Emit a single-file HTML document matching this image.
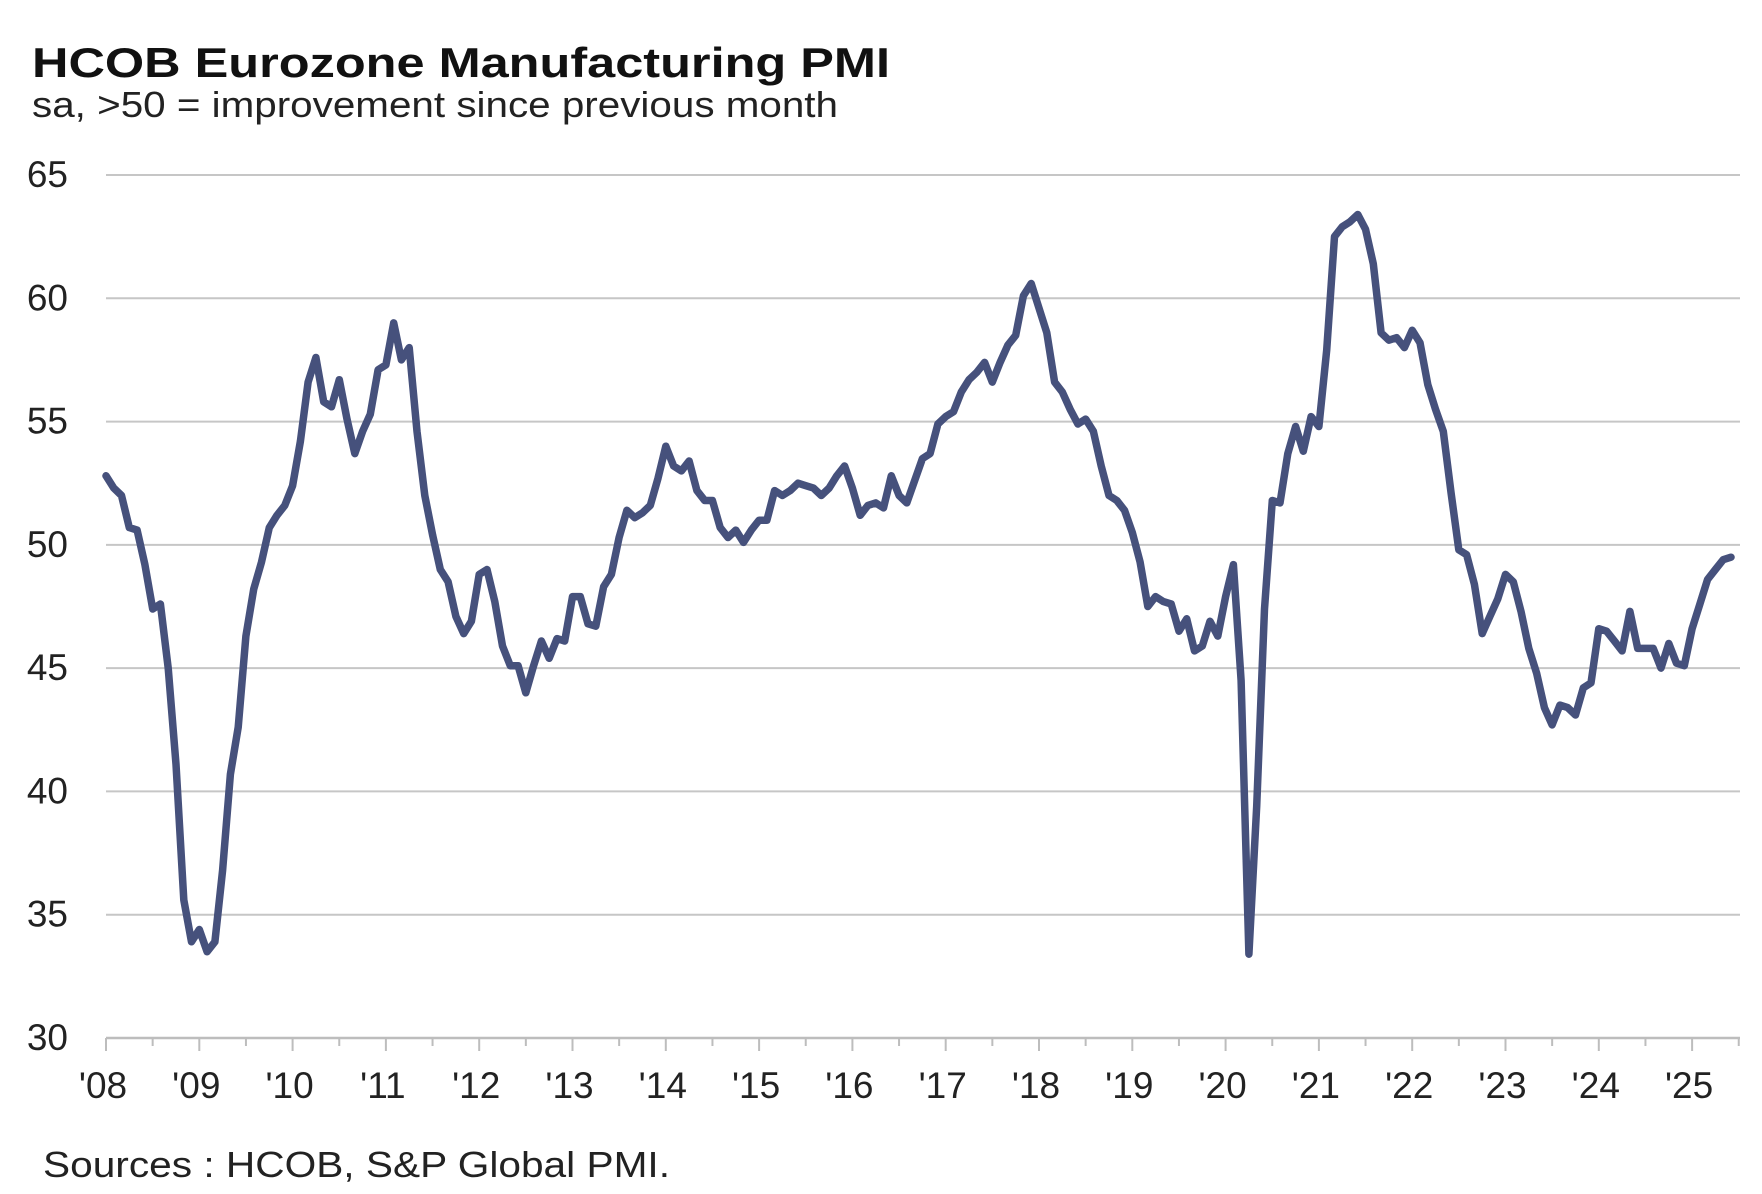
<!DOCTYPE html>
<html><head><meta charset="utf-8"><style>
html,body{margin:0;padding:0;background:#fff;}
svg{display:block;font-family:"Liberation Sans",Arial,sans-serif;}
</style></head><body>
<svg id="chart" width="1762" height="1194" viewBox="0 0 1762 1194">
<text x="32" y="77" font-size="42" font-weight="bold" fill="#111" textLength="858" lengthAdjust="spacingAndGlyphs">HCOB Eurozone Manufacturing PMI</text>
<text x="32" y="117" font-size="36" fill="#222" textLength="806" lengthAdjust="spacingAndGlyphs">sa, &gt;50 = improvement  since previous month</text>
<g id="grid"></g>
<g id="yaxis"></g>
<g id="xaxis"></g>
<path id="line" fill="none" stroke="#46517c" stroke-width="7.5" stroke-linejoin="round" stroke-linecap="round"/>
<text x="43" y="1177" font-size="36" fill="#222" textLength="627" lengthAdjust="spacingAndGlyphs">Sources : HCOB, S&amp;P Global  PMI.</text>
</svg>
<script>
const startYear = 2008;
const yTicks = [30,35,40,45,50,55,60,65];
const xTickLabels = ["'08","'09","'10","'11","'12","'13","'14","'15","'16","'17","'18","'19","'20","'21","'22","'23","'24","'25"];
const pmi2008 = [52.8,52.3,52.0,50.7,50.6,49.2,47.4,47.6,45.0,41.1,35.6,33.9];
const pmi2009 = [34.4,33.5,33.9,36.8,40.7,42.6,46.3,48.2,49.3,50.7,51.2,51.6];
const pmi2010 = [52.4,54.2,56.6,57.6,55.8,55.6,56.7,55.1,53.7,54.6,55.3,57.1];
const pmi2011 = [57.3,59.0,57.5,58.0,54.6,52.0,50.4,49.0,48.5,47.1,46.4,46.9];
const pmi2012 = [48.8,49.0,47.7,45.9,45.1,45.1,44.0,45.1,46.1,45.4,46.2,46.1];
const pmi2013 = [47.9,47.9,46.8,46.7,48.3,48.8,50.3,51.4,51.1,51.3,51.6,52.7];
const pmi2014 = [54.0,53.2,53.0,53.4,52.2,51.8,51.8,50.7,50.3,50.6,50.1,50.6];
const pmi2015 = [51.0,51.0,52.2,52.0,52.2,52.5,52.4,52.3,52.0,52.3,52.8,53.2];
const pmi2016 = [52.3,51.2,51.6,51.7,51.5,52.8,52.0,51.7,52.6,53.5,53.7,54.9];
const pmi2017 = [55.2,55.4,56.2,56.7,57.0,57.4,56.6,57.4,58.1,58.5,60.1,60.6];
const pmi2018 = [59.6,58.6,56.6,56.2,55.5,54.9,55.1,54.6,53.2,52.0,51.8,51.4];
const pmi2019 = [50.5,49.3,47.5,47.9,47.7,47.6,46.5,47.0,45.7,45.9,46.9,46.3];
const pmi2020 = [47.9,49.2,44.5,33.4,39.4,47.4,51.8,51.7,53.7,54.8,53.8,55.2];
const pmi2021 = [54.8,57.9,62.5,62.9,63.1,63.4,62.8,61.4,58.6,58.3,58.4,58.0];
const pmi2022 = [58.7,58.2,56.5,55.5,54.6,52.1,49.8,49.6,48.4,46.4,47.1,47.8];
const pmi2023 = [48.8,48.5,47.3,45.8,44.8,43.4,42.7,43.5,43.4,43.1,44.2,44.4];
const pmi2024 = [46.6,46.5,46.1,45.7,47.3,45.8,45.8,45.8,45.0,46.0,45.2,45.1];
const pmi2025 = [46.6,47.6,48.6,49.0,49.4,49.5];
const series = [].concat(pmi2008,pmi2009,pmi2010,pmi2011,pmi2012,pmi2013,pmi2014,pmi2015,pmi2016,pmi2017,pmi2018,pmi2019,pmi2020,pmi2021,pmi2022,pmi2023,pmi2024,pmi2025);

const NS = "http://www.w3.org/2000/svg";
const X0 = 106, PER_YEAR = 93.3, XR = 1740;
const Y30 = 1038, PER_UNIT = (1038-175)/35;
function xScale(monthIndex){ return X0 + monthIndex * PER_YEAR / 12; }
function yScale(v){ return Y30 - (v - 30) * PER_UNIT; }
function mk(tag, attrs, parent){ const e=document.createElementNS(NS,tag); for(const k in attrs) e.setAttribute(k,attrs[k]); parent.appendChild(e); return e; }

const grid=document.getElementById('grid'), yaxis=document.getElementById('yaxis'), xaxis=document.getElementById('xaxis');
yTicks.forEach(v=>{
  const y=yScale(v);
  if(v>30){
    const l=mk('line',{x1:X0,x2:XR,y1:y,y2:y,stroke:'#c6c6c6','stroke-width':2},grid);
    
    
  }
  const t=mk('text',{x:68,y:y+12,'text-anchor':'end','font-size':37,fill:'#222'},yaxis);
  t.textContent=v;
  
  
});
const ax=mk('line',{x1:X0,x2:XR,y1:Y30,y2:Y30,stroke:'#bdbdbd','stroke-width':2.5},xaxis);


for(let h=0; h<=35; h++){
  const x=X0+h*PER_YEAR/2;
  if(x>XR) break;
  const tk=mk('line',{x1:x,x2:x,y1:Y30,y2:Y30+(h%2?8:13),stroke:'#bdbdbd','stroke-width':2},xaxis);
  
  
}
xTickLabels.forEach((lab,i)=>{
  const t=mk('text',{x:X0+i*PER_YEAR-3,y:1098,'text-anchor':'middle','font-size':37,fill:'#222'},xaxis);
  t.textContent=lab;
  
  
});
let d='';
series.forEach((v,i)=>{ d+=(i?'L':'M')+xScale(i).toFixed(1)+','+yScale(v).toFixed(1); });
document.getElementById('line').setAttribute('d',d);
</script>
</body></html>
